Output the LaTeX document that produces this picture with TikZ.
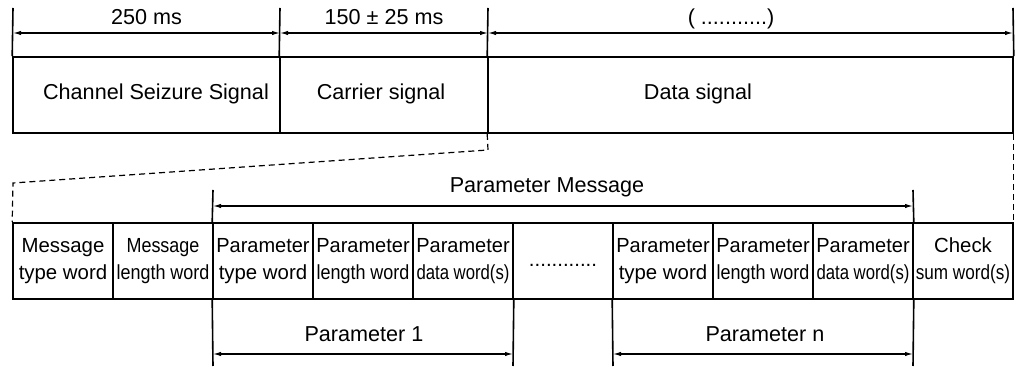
\documentclass[tikz,border=0pt]{standalone}
\usepackage{fontspec}
\setmainfont{Liberation Sans}
\usetikzlibrary{arrows.meta}
\newcommand{\sqz}[2]{\scalebox{#1}[1]{#2}}
\begin{document}
\begin{tikzpicture}[x=0.5pt,y=-0.5pt,
  frame/.style={line width=0.8pt},
  box/.style={draw, frame, minimum height=38pt, inner sep=0pt},
  cellbox/.style={box, minimum width=50pt, font=\fontsize{10.2}{13.5}\selectfont, align=center},
  lbl/.style={font=\fontsize{10.8}{13}\selectfont, inner sep=0pt, anchor=base},
  dim/.style={{Latex[length=4pt,width=2.2pt]}-{Latex[length=4pt,width=2.2pt]}, line width=0.6pt},
  lead/.style={dash pattern=on 3pt off 2pt, line width=0.6pt}]
\useasboundingbox (0,0) rectangle (1019,367);

% ---------- top frame ----------
\node[box, minimum width=133.5pt] (css) at (146.5,95) {};
\node[box, minimum width=104pt]   (car) at (384,95) {};
\node[box, minimum width=262.5pt] (dat) at (750.5,95) {};

\node[lbl] (tcss) at (156,100) {Channel Seizure Signal};
\node[lbl] (tcar) at (381,100) {Carrier signal};
\node[lbl] (tdat) at (698,100) {Data signal};

\coordinate (u0) at (13,8);
\coordinate (u1) at (280,8);
\coordinate (u2) at (488,8);
\coordinate (u3) at (1013,8);
\draw[frame] (css.north west) -- (u0);
\draw[frame] (car.north west) -- (u1);
\draw[frame] (dat.north west) -- (u2);
\draw[frame] (dat.north east) -- (u3);

\coordinate (d0) at (13,33);
\coordinate (d1) at (280,33);
\coordinate (d2) at (488,33);
\coordinate (d3) at (1013,33);
\draw[dim] (d0) -- (d1);
\draw[dim] (d1) -- (d2);
\draw[dim] (d2) -- (d3);

\node[lbl] (l250) at (146.5,25) {250 ms};
\node[lbl] (l150) at (384,25) {150 ± 25 ms};
\node[lbl] (ldat) at (731,25) {( ...........)};

% ---------- bottom frame ----------
\node[cellbox] (c1)  at (63,261)  {Message\\type word};
\node[cellbox] (c2)  at (163,261) {\sqz{0.88}{Message}\\\sqz{0.88}{length word}};
\node[cellbox] (c3)  at (263,261) {\sqz{0.98}{Parameter}\\type word};
\node[cellbox] (c4)  at (363,261) {\sqz{0.98}{Parameter}\\\sqz{0.88}{length word}};
\node[cellbox] (c5)  at (463,261) {\sqz{0.98}{Parameter}\\\sqz{0.82}{data word(s)}};
\node[cellbox] (c6)  at (563,261) {\strut............};
\node[cellbox] (c7)  at (663,261) {\sqz{0.98}{Parameter}\\type word};
\node[cellbox] (c8)  at (763,261) {\sqz{0.98}{Parameter}\\\sqz{0.88}{length word}};
\node[cellbox] (c9)  at (863,261) {\sqz{0.98}{Parameter}\\\sqz{0.82}{data word(s)}};
\node[cellbox] (c10) at (963,261) {Check\\\sqz{0.84}{sum word(s)}};

% dashed zoom lines
\coordinate (k1) at (488,150);
\coordinate (k2) at (13,183);
\draw[lead] (dat.south west) -- (k1) -- (k2) -- (c1.north west);
\draw[lead] (dat.south east) -- (c10.north east);

% Parameter Message
\coordinate (pm0) at (213,190);
\coordinate (pm1) at (913,190);
\draw[frame] (c3.north west) -- (pm0);
\draw[frame] (c9.north east) -- (pm1);
\coordinate (pa0) at (213,206);
\coordinate (pa1) at (913,206);
\draw[dim] (pa0) -- (pa1);
\node[lbl] (lpm) at (547,193) {Parameter Message};

% Parameter 1 / n
\coordinate (q0) at (213,366);
\coordinate (q1) at (513,366);
\coordinate (q2) at (613,366);
\coordinate (q3) at (913,366);
\draw[frame] (c3.south west) -- (q0);
\draw[frame] (c5.south east) -- (q1);
\draw[frame] (c7.south west) -- (q2);
\draw[frame] (c9.south east) -- (q3);
\coordinate (r0) at (213,354);
\coordinate (r1) at (513,354);
\coordinate (r2) at (613,354);
\coordinate (r3) at (913,354);
\draw[dim] (r0) -- (r1);
\draw[dim] (r2) -- (r3);
\node[lbl] (lp1) at (364,342) {Parameter 1};
\node[lbl] (lpn) at (765,342) {Parameter n};
\end{tikzpicture}
\end{document}
